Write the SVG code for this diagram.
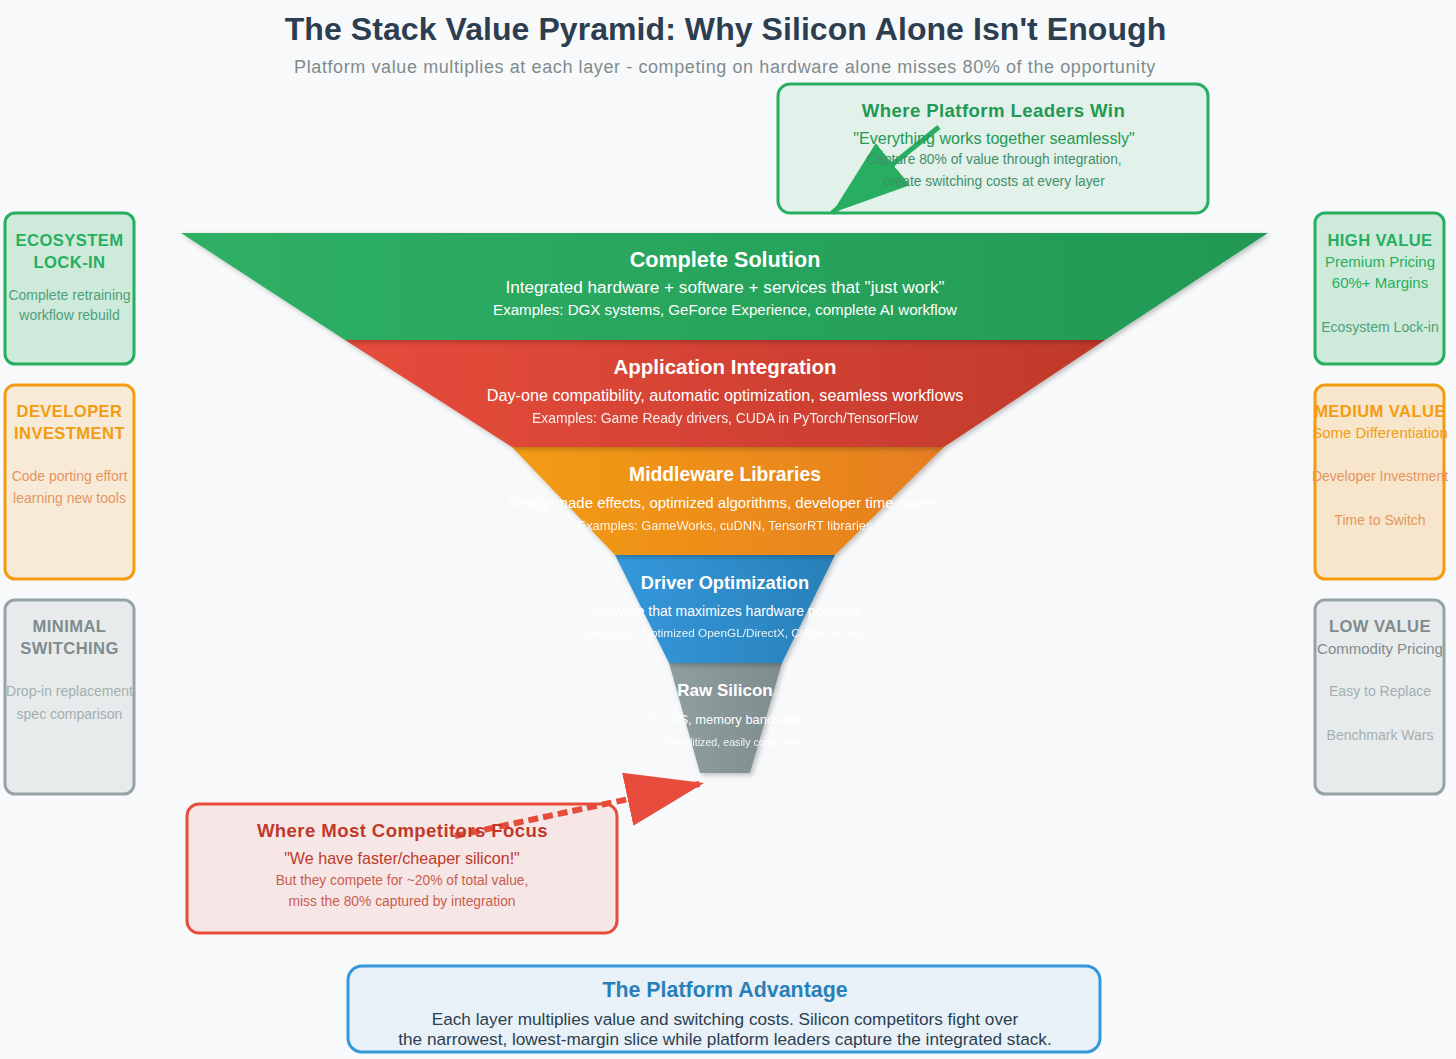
<svg xmlns="http://www.w3.org/2000/svg" width="1456" height="1059" viewBox="0 0 1456 1059">
<style>
text{font-family:"Liberation Sans",Arial,sans-serif;text-anchor:middle}
.t{fill:#fff;font-weight:700}
.w{fill:#fff}
.box{stroke-width:3}
.g{fill:#27ae60;fill-opacity:.1;stroke:#27ae60}
.g2{fill:#27ae60;fill-opacity:.2;stroke:#27ae60}
.o{fill:#f39c12;fill-opacity:.15;stroke:#f39c12}
.o2{fill:#f39c12;fill-opacity:.2;stroke:#f39c12}
.s{fill:#95a5a6;fill-opacity:.17;stroke:#95a5a6}
.r{fill:#e74c3c;fill-opacity:.1;stroke:#e74c3c}
.b{fill:#3498db;fill-opacity:.08;stroke:#3498db}
.h{font-weight:700;font-size:16.6px;letter-spacing:.4px}
.n{font-size:14px}
.v{font-size:15px}
.ng{fill:#4f9f7a}
.no{fill:#e59560}
.ns{fill:#a3afb0}
</style>
<defs>
<linearGradient id="gG"><stop offset="0" stop-color="#2eb065"/><stop offset="1" stop-color="#229954"/></linearGradient>
<linearGradient id="gR"><stop offset="0" stop-color="#e74c3c"/><stop offset="1" stop-color="#c0392b"/></linearGradient>
<linearGradient id="gO"><stop offset="0" stop-color="#f39c12"/><stop offset="1" stop-color="#e67e22"/></linearGradient>
<linearGradient id="gB"><stop offset="0" stop-color="#3498db"/><stop offset="1" stop-color="#2980b9"/></linearGradient>
<linearGradient id="gS"><stop offset="0" stop-color="#8f9fa0"/><stop offset="1" stop-color="#7f8c8d"/></linearGradient>
<filter id="sh" x="-10%" y="-10%" width="120%" height="125%"><feDropShadow dx="2" dy="2" stdDeviation="2.500" flood-color="#000" flood-opacity=".25"/></filter>
<marker id="ag" viewBox="0 0 78 54" refX="78" refY="27" markerWidth="78" markerHeight="54" markerUnits="userSpaceOnUse" orient="auto"><path d="M0 0L78 27L0 54Z" fill="#27ae60"/></marker>
<marker id="ar" viewBox="0 0 78 54" refX="78" refY="27" markerWidth="78" markerHeight="54" markerUnits="userSpaceOnUse" orient="auto"><path d="M0 0L78 27L0 54Z" fill="#e74c3c"/></marker>
</defs>
<rect width="1456" height="1059" fill="#f8f9fa"/>
<g id="heading">
<text x="725.500" y="40" font-size="32" font-weight="700" fill="#2c3e50" letter-spacing=".07">The Stack Value Pyramid: Why Silicon Alone Isn't Enough</text>
<text x="725" y="72.500" font-size="18" fill="#7f8c8d" letter-spacing=".6">Platform value multiplies at each layer - competing on hardware alone misses 80% of the opportunity</text>
</g>
<g id="connectors">
<line x1="939" y1="127" x2="832" y2="213" stroke="#27ae60" stroke-width="5" marker-end="url(#ag)"/>
<line x1="455" y1="836" x2="704" y2="783" stroke="#e74c3c" stroke-width="6" stroke-dasharray="10 5" marker-end="url(#ar)"/>
</g>
<g id="layer-silicon">
<polygon points="669,663 782,663 750,773 700,773" fill="url(#gS)" filter="url(#sh)"/>
<text class="t" x="725" y="696" font-size="17">Raw Silicon</text>
<text class="w" x="725" y="724" font-size="12.900">FLOPS, memory bandwidth</text>
<text class="w" x="725" y="746" font-size="10.700" opacity=".9">Commoditized, easily compared</text>
</g>
<g id="layer-driver">
<polygon points="615,555 835,555 782,663 669,663" fill="url(#gB)" filter="url(#sh)"/>
<text class="t" x="725" y="589" font-size="18.250">Driver Optimization</text>
<text class="w" x="725" y="616" font-size="14">Software that maximizes hardware potential</text>
<text class="w" x="725" y="637" font-size="11.800" opacity=".9">Examples: Optimized OpenGL/DirectX, CUDA runtime</text>
</g>
<g id="layer-middleware">
<polygon points="512,447 944,447 835,555 615,555" fill="url(#gO)" filter="url(#sh)"/>
<text class="t" x="725" y="481" font-size="19.300">Middleware Libraries</text>
<text class="w" x="725" y="508" font-size="15">Ready-made effects, optimized algorithms, developer time-savers</text>
<text class="w" x="725" y="530" font-size="12.900" opacity=".9">Examples: GameWorks, cuDNN, TensorRT libraries</text>
</g>
<g id="layer-application">
<polygon points="345,340 1105,340 944,447 512,447" fill="url(#gR)" filter="url(#sh)"/>
<text class="t" x="725" y="374" font-size="20.500">Application Integration</text>
<text class="w" x="725" y="401" font-size="16.200">Day-one compatibility, automatic optimization, seamless workflows</text>
<text class="w" x="725" y="423" font-size="13.900" opacity=".9">Examples: Game Ready drivers, CUDA in PyTorch/TensorFlow</text>
</g>
<g id="layer-complete">
<polygon points="181,233 1268,233 1105,340 345,340" fill="url(#gG)" filter="url(#sh)"/>
<text class="t" x="725" y="267" font-size="21.600">Complete Solution</text>
<text class="w" x="725" y="293" font-size="17.200">Integrated hardware + software + services that "just work"</text>
<text class="w" x="725" y="315" font-size="15.100">Examples: DGX systems, GeForce Experience, complete AI workflow</text>
</g>
<g id="leaders">
<rect class="box g" x="778" y="84" width="430" height="129" rx="12"/>
<text x="993.500" y="116.500" font-size="18.600" font-weight="700" fill="#229954" letter-spacing=".4">Where Platform Leaders Win</text>
<text x="994" y="144" font-size="16.100" fill="#229954">"Everything works together seamlessly"</text>
<text x="994" y="164" font-size="13.800" fill="#3f8f6a">Capture 80% of value through integration,</text>
<text x="994" y="186" font-size="13.800" fill="#3f8f6a">create switching costs at every layer</text>
</g>
<g id="competitors">
<rect class="box r" x="187" y="804" width="430" height="129" rx="12"/>
<text x="402.500" y="836.500" font-size="18.600" font-weight="700" fill="#c0392b" letter-spacing=".4">Where Most Competitors Focus</text>
<text x="402" y="864" font-size="16.100" fill="#c0392b">"We have faster/cheaper silicon!"</text>
<text x="402" y="885" font-size="13.800" fill="#c95c50">But they compete for ~20% of total value,</text>
<text x="402" y="906" font-size="13.800" fill="#c95c50">miss the 80% captured by integration</text>
</g>
<g id="left-ecosystem">
<rect class="box g2" x="5" y="213" width="129" height="151" rx="10"/>
<text class="h" x="69.500" y="246" fill="#27ae60">ECOSYSTEM</text>
<text class="h" x="69.500" y="268" fill="#27ae60">LOCK-IN</text>
<text class="n ng" x="69.500" y="300">Complete retraining</text>
<text class="n ng" x="69.500" y="320">workflow rebuild</text>
</g>
<g id="left-developer">
<rect class="box o" x="5" y="385" width="129" height="194" rx="10"/>
<text class="h" x="69.500" y="417" fill="#f39c12">DEVELOPER</text>
<text class="h" x="69.500" y="439" fill="#f39c12">INVESTMENT</text>
<text class="n no" x="69.500" y="481">Code porting effort</text>
<text class="n no" x="69.500" y="503">learning new tools</text>
</g>
<g id="left-switching">
<rect class="box s" x="5" y="600" width="129" height="194" rx="10"/>
<text class="h" x="69.500" y="632" fill="#7f8c8d">MINIMAL</text>
<text class="h" x="69.500" y="654" fill="#7f8c8d">SWITCHING</text>
<text class="n ns" x="69.500" y="696">Drop-in replacement</text>
<text class="n ns" x="69.500" y="719">spec comparison</text>
</g>
<g id="right-high">
<rect class="box g2" x="1315" y="213" width="129" height="151" rx="10"/>
<text class="h" x="1380" y="246" fill="#27ae60">HIGH VALUE</text>
<text class="v" x="1380" y="267" fill="#27ae60">Premium Pricing</text>
<text class="v" x="1380" y="288" fill="#27ae60">60%+ Margins</text>
<text class="n ng" x="1380" y="332">Ecosystem Lock-in</text>
</g>
<g id="right-medium">
<rect class="box o2" x="1315" y="385" width="129" height="194" rx="10"/>
<text class="h" x="1380" y="417" fill="#f39c12">MEDIUM VALUE</text>
<text class="v" x="1380" y="438" fill="#f39c12">Some Differentiation</text>
<text class="n no" x="1380" y="481">Developer Investment</text>
<text class="n no" x="1380" y="525">Time to Switch</text>
</g>
<g id="right-low">
<rect class="box s" x="1315" y="600" width="129" height="194" rx="10"/>
<text class="h" x="1380" y="632" fill="#7f8c8d">LOW VALUE</text>
<text class="v" x="1380" y="654" fill="#7f8c8d">Commodity Pricing</text>
<text class="n ns" x="1380" y="696">Easy to Replace</text>
<text class="n ns" x="1380" y="740">Benchmark Wars</text>
</g>
<g id="advantage">
<rect class="box b" x="348" y="966" width="752" height="86" rx="14"/>
<text x="725" y="997" font-size="21.400" font-weight="700" fill="#2980b9">The Platform Advantage</text>
<text x="725" y="1025" font-size="17.200" fill="#2c3e50">Each layer multiplies value and switching costs. Silicon competitors fight over</text>
<text x="725" y="1045" font-size="17.200" fill="#2c3e50">the narrowest, lowest-margin slice while platform leaders capture the integrated stack.</text>
</g>
</svg>
